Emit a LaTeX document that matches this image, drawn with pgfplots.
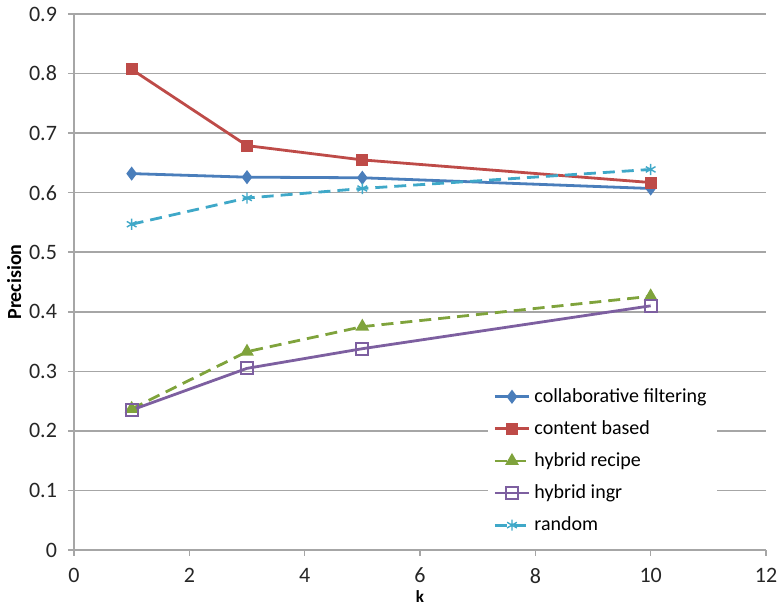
\documentclass[border=0pt]{standalone}
\usepackage{fontspec}
\setmainfont{Carlito}
\usepackage{pgfplots}
\pgfplotsset{compat=1.18}
\definecolor{cfblue}{HTML}{4A7EBB}
\definecolor{cbred}{HTML}{BE4B48}
\definecolor{hrgreen}{HTML}{7FA33C}
\definecolor{higpurple}{HTML}{7D5FA0}
\definecolor{rdcyan}{HTML}{3FA8C8}
\definecolor{gridgray}{HTML}{A6A6A6}
\begin{document}
\begin{tikzpicture}
\begin{axis}[
  scale only axis,
  width=346pt, height=268pt,
  at={(0,0)}, anchor=south west,
  xmin=0, xmax=12, ymin=0, ymax=0.9,
  xtick={0,2,4,6,8,10,12},
  ytick={0,0.1,0.2,0.3,0.4,0.5,0.6,0.7,0.8,0.9},
  yticklabel style={/pgf/number format/fixed,/pgf/number format/precision=1, xshift=-2pt},
  xticklabel style={yshift=-2.5pt},
  /pgf/number format/assume math mode=true,
  axis x line*=bottom, axis y line*=left,
  axis line style={gridgray, line width=0.8pt, -},
  tick style={gridgray, line width=0.8pt},
  tick align=outside,
  major tick length=3pt,
  ymajorgrids,
  grid style={gridgray, line width=0.8pt},
  ticklabel style={font=\fontsize{11}{13}\selectfont, text=black!85},
  xlabel={\textbf{k}}, ylabel={\textbf{Precision}},
  label style={font=\fontsize{10}{12}\selectfont},
  xlabel style={font=\fontsize{8.5}{10}\selectfont, yshift=3pt},
  ylabel style={yshift=-3pt},
  legend cell align=left,
  legend style={at={(0.597,0.321)}, anchor=north west, draw=none, fill=white,
    font=\fontsize{10}{12}\selectfont, row sep=3.6pt, inner sep=3pt},
  every axis plot/.append style={line width=1.4pt},
]
\addplot[cfblue, mark=diamond*, mark size=2.4pt, mark options={solid}] coordinates {(1,0.632) (3,0.626) (5,0.625) (10,0.607)};
\addlegendentry{collaborative filtering}
\addplot[cbred, mark=square*, mark size=2.3pt, mark options={solid}] coordinates {(1,0.807) (3,0.679) (5,0.655) (10,0.617)};
\addlegendentry{content based}
\addplot[hrgreen, dash pattern=on 6pt off 3.5pt, mark=triangle*, mark size=2.6pt, mark options={solid}] coordinates {(1,0.237) (3,0.333) (5,0.375) (10,0.426)};
\addlegendentry{hybrid recipe}
\addplot[higpurple, mark=square, mark size=3pt, mark options={solid, fill=white, line width=0.9pt}] coordinates {(1,0.235) (3,0.305) (5,0.338) (10,0.410)};
\addlegendentry{hybrid ingr}
\addplot[rdcyan, dash pattern=on 6pt off 3.5pt, mark=asterisk, mark size=2.8pt, mark options={solid, line width=0.7pt}] coordinates {(1,0.547) (3,0.591) (5,0.607) (10,0.639)};
\addlegendentry{random}
\end{axis}
\pgfresetboundingbox
\path[use as bounding box] (-37pt,-30pt) rectangle (352pt,275pt);
\end{tikzpicture}
\end{document}
